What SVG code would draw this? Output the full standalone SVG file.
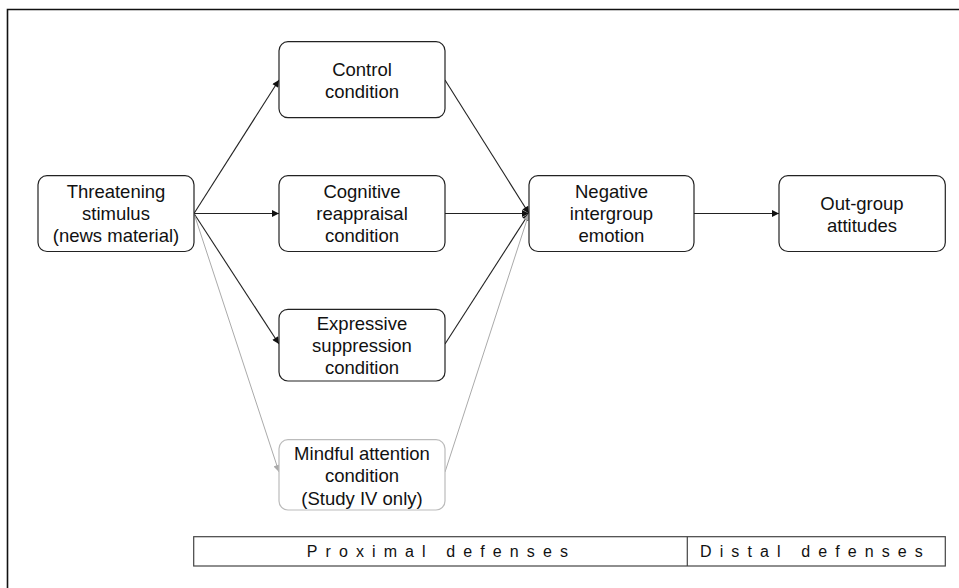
<svg xmlns="http://www.w3.org/2000/svg" width="959" height="588" viewBox="0 0 959 588">
<defs>
<style>
.box{fill:#fff;stroke:#222;stroke-width:1.2}
.gbox{fill:#fff;stroke:#bbb;stroke-width:1.2}
.t{font-family:"Liberation Sans",Arial,sans-serif;font-size:18.5px;fill:#111;text-anchor:middle}
.b{font-family:"Liberation Sans",Arial,sans-serif;font-size:16px;fill:#111;letter-spacing:8.1px}
.c{stroke:#222;stroke-width:1.1;fill:none;marker-end:url(#ah)}
.g{stroke:#aaa;stroke-width:1;fill:none;marker-end:url(#ag)}
</style>
<marker id="ah" viewBox="0 0 10 10" refX="10" refY="5" markerWidth="8" markerHeight="7" markerUnits="userSpaceOnUse" orient="auto"><path d="M0,0 L10,5 L0,10 z" fill="#111"/></marker>
<marker id="ag" viewBox="0 0 10 10" refX="10" refY="5" markerWidth="8" markerHeight="7" markerUnits="userSpaceOnUse" orient="auto"><path d="M0,0 L10,5 L0,10 z" fill="#aaa"/></marker>
</defs>
<rect width="959" height="588" fill="#fff"/>
<path d="M7.5,588 V9.5 H959" fill="none" stroke="#111" stroke-width="1.6"/>

<g id="connectors">
<line class="c" x1="194" y1="213.5" x2="279" y2="80"/>
<line class="c" x1="194" y1="213.5" x2="279" y2="213.5"/>
<line class="c" x1="194" y1="213.5" x2="279" y2="344"/>
<line class="g" x1="194" y1="213.5" x2="279" y2="472"/>
<line class="c" x1="445" y1="80" x2="529" y2="213.5"/>
<line class="c" x1="445" y1="213.5" x2="529" y2="213.5"/>
<line class="c" x1="445" y1="344" x2="529" y2="213.5"/>
<line class="g" x1="445" y1="472" x2="529" y2="213.5"/>
<line class="c" x1="694" y1="213.5" x2="779" y2="213.5"/>
</g>

<g id="threat">
<rect class="box" x="38" y="175.7" width="156" height="75.8" rx="9"/>
<text class="t" x="116" y="198">Threatening</text>
<text class="t" x="116" y="220">stimulus</text>
<text class="t" x="116" y="242">(news material)</text>
</g>
<g id="control">
<rect class="box" x="279" y="41.7" width="166" height="76" rx="9"/>
<text class="t" x="362" y="76">Control</text>
<text class="t" x="362" y="98">condition</text>
</g>
<g id="cognitive">
<rect class="box" x="279" y="175.7" width="166" height="75.8" rx="9"/>
<text class="t" x="362" y="198">Cognitive</text>
<text class="t" x="362" y="220">reappraisal</text>
<text class="t" x="362" y="242">condition</text>
</g>
<g id="expressive">
<rect class="box" x="279" y="309.3" width="166" height="71.7" rx="9"/>
<text class="t" x="362" y="330">Expressive</text>
<text class="t" x="362" y="352">suppression</text>
<text class="t" x="362" y="374">condition</text>
</g>
<g id="mindful">
<rect class="gbox" x="279" y="439.7" width="166" height="70.3" rx="9"/>
<text class="t" x="362" y="460">Mindful attention</text>
<text class="t" x="362" y="482">condition</text>
<text class="t" x="362" y="505">(Study IV only)</text>
</g>
<g id="negative">
<rect class="box" x="529" y="175.7" width="165" height="75.8" rx="9"/>
<text class="t" x="611.5" y="198">Negative</text>
<text class="t" x="611.5" y="220">intergroup</text>
<text class="t" x="611.5" y="242">emotion</text>
</g>
<g id="outgroup">
<rect class="box" x="779" y="175.7" width="166.3" height="75.8" rx="9"/>
<text class="t" x="862" y="210">Out-group</text>
<text class="t" x="862" y="232">attitudes</text>
</g>
<g id="defenses">
<rect x="193.7" y="536.7" width="751.6" height="29.3" fill="#fff" stroke="#444" stroke-width="1.2"/>
<line x1="687.3" y1="536.7" x2="687.3" y2="566" stroke="#444" stroke-width="1.2"/>
<text class="b" x="306.7" y="557">Proximal defenses</text>
<text class="b" x="700" y="557">Distal defenses</text>
</g>
</svg>
